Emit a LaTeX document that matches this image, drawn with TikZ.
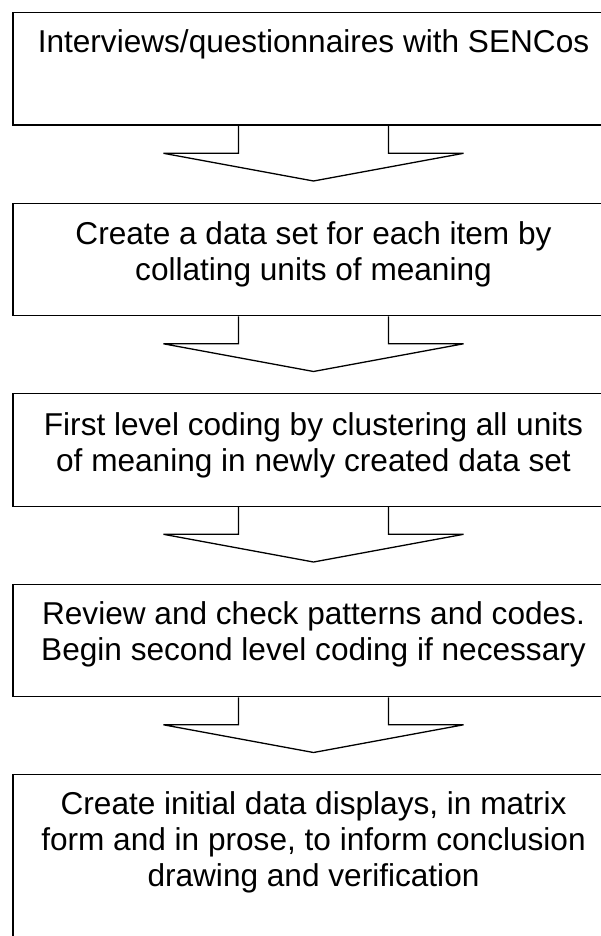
\documentclass[tikz,border=0pt]{standalone}
\usepackage{fontspec}
\setmainfont{Liberation Sans}
\usetikzlibrary{calc}

% Coordinates are in points, y grows downwards
\tikzset{
  x=1pt, y=-1pt,
  stage/.style={draw, line width=1.3pt, minimum width=601pt, minimum height=112.5pt,
    inner sep=0pt, anchor=north},
  stagetext/.style={anchor=base, inner sep=0pt, font=\fontsize{31.6}{36.3}\selectfont},
  flow/.style={draw, line width=1.3pt, line join=miter},
}

% Block arrow hanging under box #1 with its tip just above box #2
\newcommand\flowarrow[2]{%
  \draw[flow] ($(#1.south)+(-75,0)$) -- ($(#1.south)+(-75,27.5)$)
    -- ($(#1.south)+(-150,27.5)$) -- ($(#2.north)+(0,-21.5)$)
    -- ($(#1.south)+(150,27.5)$) -- ($(#1.south)+(75,27.5)$)
    -- ($(#1.south)+(75,0)$);%
}
\newcommand\lines[1]{\begin{tabular}[t]{@{}c@{}}#1\end{tabular}}

\begin{document}
\begin{tikzpicture}
  \useasboundingbox (0,0) rectangle (601,936);
  \clip (0,0) rectangle (601,936);

  \node[stage] (b1) at (313.5,12) {};
  \node[stage] (b2) at (313.5,202.5) {};
  \node[stage] (b3) at (313.5,393) {};
  \node[stage] (b4) at (313.5,583.5) {};
  \node[stage, minimum height=200pt] (b5) at (313.5,774) {};

  \node[stagetext] (t1) at ($(b1.north)+(0,41)$)
    {\lines{Interviews/questionnaires with SENCos}};
  \node[stagetext] (t2) at ($(b2.north)+(0,42)$)
    {\lines{Create a data set for each item by\\collating units of meaning}};
  \node[stagetext] (t3) at ($(b3.north)+(0,42)$)
    {\lines{First level coding by clustering all units\\of meaning in newly created data set}};
  \node[stagetext] (t4) at ($(b4.north)+(0,41)$)
    {\lines{Review and check patterns and codes.\\Begin second level coding if necessary}};
  \node[stagetext] (t5) at ($(b5.north)+(0,40)$)
    {\lines{Create initial data displays, in matrix\\form and in prose, to inform conclusion\\drawing and verification}};

  \flowarrow{b1}{b2}
  \flowarrow{b2}{b3}
  \flowarrow{b3}{b4}
  \flowarrow{b4}{b5}
\end{tikzpicture}
\end{document}
